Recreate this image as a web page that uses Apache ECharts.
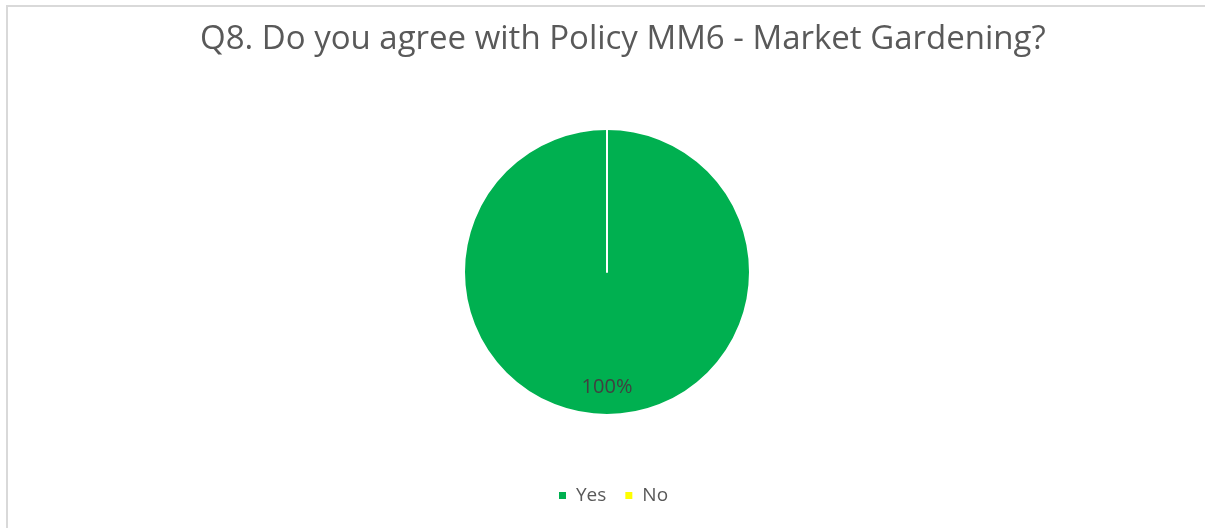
<!DOCTYPE html>
<html>
<head>
<meta charset="utf-8">
<script src="https://cdn.jsdelivr.net/npm/echarts@6/dist/echarts.min.js"></script>
<style>
  html, body { margin: 0; padding: 0; background: #fff; }
  #chart { position: absolute; left: 0; top: 0; width: 1205px; height: 528px; }
  #frame { position: absolute; left: 6px; top: 5px; width: 1300px; height: 600px; border: 2px solid #D9D9D9; box-sizing: border-box; pointer-events: none; }
</style>
</head>
<body>
<div id="chart"></div>
<div id="frame"></div>
<script>
const titleText = 'Q8. Do you agree with Policy MM6 - Market Gardening?';
const categories = ['Yes', 'No'];
const values = [100, 0];
const colors = ['#00B050', '#FFFF00'];

const chart = echarts.init(document.getElementById('chart'), null, { renderer: 'canvas' });

const data = categories.map((c, i) => ({
  name: c,
  value: values[i],
  itemStyle: { color: colors[i] },
  label: { show: values[i] > 0 }
}));

chart.setOption({
  animation: false,
  backgroundColor: 'transparent',
  title: {
    text: titleText,
    left: 195,
    top: 18,
    textStyle: { fontFamily: 'Open Sans', fontSize: 33, fontWeight: 'normal', color: '#595959' }
  },
  legend: {
    data: categories,
    bottom: 18,
    left: 552,
    icon: 'rect',
    itemWidth: 9,
    itemHeight: 9,
    itemGap: 17,
    textStyle: { fontFamily: 'Open Sans', fontSize: 19, color: '#595959', padding: [0, 0, 0, 4] }
  },
  series: [{
    type: 'pie',
    center: [607, 272],
    radius: 143,
    startAngle: 90,
    clockwise: true,
    avoidLabelOverlap: false,
    itemStyle: { borderColor: '#ffffff', borderWidth: 2 },
    label: {
      position: 'inside',
      formatter: '{d}%',
      offset: [0, 41],
      fontFamily: 'Open Sans',
      fontSize: 20,
      color: '#404040'
    },
    labelLine: { show: false },
    emphasis: { disabled: true },
    data: data
  }]
});
</script>
</body>
</html>
